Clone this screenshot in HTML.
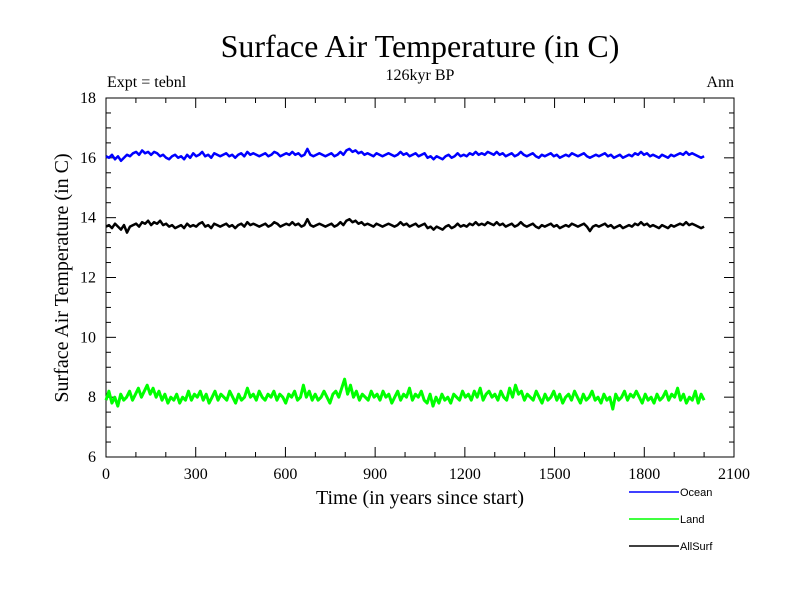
<!DOCTYPE html>
<html><head><meta charset="utf-8"><style>
body{margin:0;background:#fff;}
svg text{font-family:"Liberation Serif",serif;}
</style></head><body>
<svg id="chart" width="800" height="600" xmlns="http://www.w3.org/2000/svg">
<text x="420" y="57" font-size="32" text-anchor="middle">Surface Air Temperature (in C)</text>
<text x="107" y="87" font-size="16">Expt = tebnl</text>
<text x="420" y="80" font-size="16" text-anchor="middle">126kyr BP</text>
<text x="734" y="87" font-size="16" text-anchor="end">Ann</text>
<text transform="translate(68,278) rotate(-90)" font-size="20" text-anchor="middle">Surface Air Temperature (in C)</text>
<text x="420" y="504" font-size="20" text-anchor="middle">Time (in years since start)</text>
<g id="axes"></g>
<g id="series"></g>
<g>
<line x1="629" y1="492" x2="679" y2="492" stroke="#0000ff" stroke-width="1.5"/>
<text x="680" y="496" font-size="11" style="font-family:'Liberation Sans',sans-serif">Ocean</text>
<line x1="629" y1="519" x2="679" y2="519" stroke="#00ff00" stroke-width="1.5"/>
<text x="680" y="523" font-size="11" style="font-family:'Liberation Sans',sans-serif">Land</text>
<line x1="629" y1="546" x2="679" y2="546" stroke="#000" stroke-width="1.5"/>
<text x="680" y="550" font-size="11" style="font-family:'Liberation Sans',sans-serif">AllSurf</text>
</g>
</svg>
<script>
const xTicks=[0,300,600,900,1200,1500,1800,2100];
const yTicks=[6,8,10,12,14,16,18];
const ocean=[16.05,16.0,16.1,15.95,16.05,15.9,16.0,16.1,16.05,16.15,16.2,16.1,16.25,16.15,16.2,16.1,16.2,16.15,16.05,16.1,16.0,15.95,16.05,16.1,16.0,16.05,15.95,16.1,16.0,16.15,16.05,16.1,16.2,16.05,16.1,16.0,16.15,16.1,16.05,16.1,16.15,16.05,16.1,16.0,16.1,16.15,16.05,16.2,16.1,16.15,16.1,16.05,16.1,16.15,16.05,16.1,16.2,16.15,16.05,16.1,16.15,16.1,16.2,16.1,16.15,16.05,16.1,16.3,16.1,16.05,16.1,16.15,16.1,16.05,16.1,16.15,16.05,16.1,16.2,16.1,16.25,16.3,16.2,16.25,16.15,16.2,16.1,16.15,16.1,16.05,16.15,16.1,16.05,16.1,16.15,16.1,16.05,16.1,16.2,16.1,16.15,16.05,16.1,16.15,16.05,16.1,16.15,16.0,16.05,15.95,16.05,16.0,15.95,16.05,16.1,16.0,16.05,16.15,16.05,16.1,16.05,16.15,16.1,16.2,16.1,16.15,16.1,16.2,16.15,16.1,16.2,16.1,16.15,16.05,16.1,16.15,16.05,16.1,16.2,16.1,16.05,16.1,16.15,16.05,16.0,16.1,16.05,16.1,16.15,16.05,16.1,16.0,16.05,16.1,16.05,16.15,16.1,16.05,16.1,16.15,16.05,16.0,16.05,16.1,16.05,16.1,16.15,16.05,16.1,16.0,16.05,16.1,16.0,16.05,16.1,16.05,16.15,16.1,16.2,16.1,16.15,16.05,16.1,16.05,16.0,16.1,16.05,16.0,16.1,16.05,16.1,16.15,16.1,16.2,16.1,16.15,16.1,16.05,16.0,16.05];
const land=[7.9,8.2,7.8,8.0,7.7,8.1,7.9,8.0,8.2,7.9,8.1,8.3,8.0,8.2,8.4,8.1,8.3,8.0,8.2,7.9,8.1,7.8,8.0,7.9,8.1,7.8,8.0,7.9,8.2,7.9,8.1,8.0,8.2,7.9,8.1,7.8,8.0,8.2,7.9,8.1,8.0,7.9,8.2,8.0,7.8,8.1,7.9,8.0,8.3,8.0,8.1,7.9,8.2,8.0,7.9,8.1,8.0,8.2,7.9,8.1,8.0,7.8,8.1,8.0,8.2,7.9,8.0,8.4,8.0,8.2,7.9,8.1,7.9,8.0,8.2,8.0,7.8,8.1,8.2,8.0,8.3,8.6,8.1,8.4,8.0,8.2,7.9,8.1,8.0,7.9,8.2,8.0,8.1,7.9,8.2,8.0,8.1,7.8,8.0,8.2,7.9,8.1,8.0,8.3,7.9,8.1,8.0,8.2,7.9,7.8,8.1,7.7,8.0,7.8,8.1,7.9,8.0,7.8,8.1,8.0,7.9,8.2,8.0,8.1,7.9,8.2,8.0,8.3,7.9,8.1,8.2,8.0,8.1,7.9,8.2,8.0,7.9,8.3,8.0,8.4,8.1,8.2,7.9,8.1,8.0,7.9,8.2,8.0,7.8,8.1,7.9,8.0,8.2,7.9,8.1,7.8,8.0,8.1,7.9,8.2,8.0,7.8,8.1,7.9,8.0,8.2,7.9,8.0,7.8,8.1,7.9,8.0,7.6,8.1,7.9,8.0,8.2,7.9,8.1,8.0,8.2,8.0,7.8,8.1,7.9,8.0,7.8,8.1,7.9,8.0,8.2,7.9,8.1,8.0,8.3,7.9,8.1,7.8,8.0,7.9,8.2,7.8,8.1,7.9];
const allsurf=[13.7,13.75,13.65,13.8,13.7,13.6,13.75,13.5,13.7,13.75,13.8,13.7,13.85,13.8,13.9,13.75,13.85,13.8,13.9,13.75,13.8,13.7,13.75,13.65,13.7,13.75,13.65,13.8,13.7,13.75,13.7,13.8,13.85,13.7,13.75,13.65,13.8,13.75,13.7,13.75,13.8,13.7,13.75,13.65,13.75,13.8,13.7,13.85,13.75,13.8,13.75,13.7,13.75,13.8,13.7,13.75,13.85,13.8,13.7,13.75,13.8,13.75,13.85,13.75,13.8,13.7,13.75,13.95,13.75,13.7,13.75,13.8,13.75,13.7,13.75,13.8,13.7,13.75,13.85,13.75,13.9,13.95,13.85,13.9,13.8,13.85,13.75,13.8,13.75,13.7,13.8,13.75,13.7,13.75,13.8,13.75,13.7,13.75,13.85,13.75,13.8,13.7,13.75,13.8,13.7,13.75,13.8,13.65,13.7,13.6,13.7,13.65,13.6,13.7,13.75,13.65,13.7,13.8,13.7,13.75,13.7,13.8,13.75,13.85,13.75,13.8,13.75,13.85,13.8,13.75,13.85,13.75,13.8,13.7,13.75,13.8,13.7,13.75,13.85,13.75,13.7,13.75,13.8,13.7,13.65,13.75,13.7,13.75,13.8,13.7,13.75,13.65,13.7,13.75,13.7,13.8,13.75,13.7,13.75,13.8,13.7,13.55,13.7,13.75,13.7,13.75,13.8,13.7,13.75,13.65,13.7,13.75,13.65,13.7,13.75,13.7,13.8,13.75,13.85,13.75,13.8,13.7,13.75,13.7,13.65,13.75,13.7,13.65,13.75,13.7,13.75,13.8,13.75,13.85,13.75,13.8,13.75,13.7,13.65,13.7];
const startYear=0,endYear=2000;
const X0=106,X1=734,Y0=457,Y1=98;
function xs(v){return X0+(v-0)/(2100-0)*(X1-X0);}
function ys(v){return Y0-(v-6)/(18-6)*(Y0-Y1);}
const NS='http://www.w3.org/2000/svg';
const axes=document.getElementById('axes');
function mk(tag,attrs,parent){const e=document.createElementNS(NS,tag);for(const k in attrs)e.setAttribute(k,attrs[k]);parent.appendChild(e);return e;}
const frame=mk('rect',{x:X0,y:Y1,width:X1-X0,height:Y0-Y1,fill:'none',stroke:'#000','stroke-width':1},axes);


for(let v=0;v<=2100;v+=100){const major=v%300===0;const L=major?10:5;
mk('line',{x1:xs(v),y1:Y0,x2:xs(v),y2:Y0-L,stroke:'#000'},axes);
mk('line',{x1:xs(v),y1:Y1,x2:xs(v),y2:Y1+L,stroke:'#000'},axes);}
for(let v=6;v<=18;v+=0.5){const major=Math.abs(v%2)<1e-6;const L=major?10:5;
mk('line',{x1:X0,y1:ys(v),x2:X0+L,y2:ys(v),stroke:'#000'},axes);
mk('line',{x1:X1,y1:ys(v),x2:X1-L,y2:ys(v),stroke:'#000'},axes);}
xTicks.forEach(t=>{const e=mk('text',{x:xs(t),y:Y0+22,'font-size':16,'text-anchor':'middle'},axes);e.textContent=t;

});
yTicks.forEach(t=>{const e=mk('text',{x:X0-10,y:ys(t)+5,'font-size':16,'text-anchor':'end'},axes);e.textContent=t;

});
const ser=document.getElementById('series');
function draw(arr,color,name,w){const n=arr.length;
const pts=arr.map((v,i)=>xs(startYear+i*(endYear-startYear)/(n-1)).toFixed(1)+','+ys(v).toFixed(1)).join(' ');
const p=mk('polyline',{points:pts,fill:'none',stroke:color,'stroke-width':w,'stroke-linejoin':'round'},ser);

}
draw(land,'#00ff00','land-line',3);
draw(allsurf,'#000000','allsurf-line',2.5);
draw(ocean,'#0000ff','ocean-line',2.5);
</script>
</body></html>
